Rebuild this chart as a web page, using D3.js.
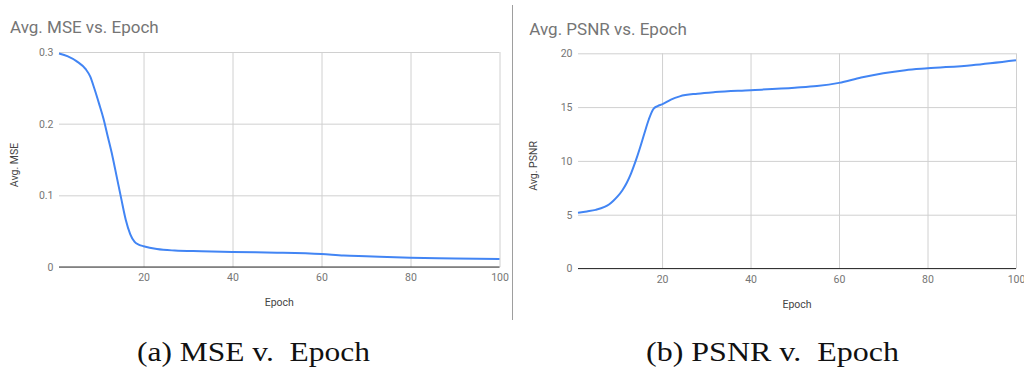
<!DOCTYPE html>
<html>
<head>
<meta charset="utf-8">
<script src="https://cdn.jsdelivr.net/npm/d3@7"></script>
<style>
  html, body { margin: 0; padding: 0; background: #fff; }
  svg { display: block; }
</style>
</head>
<body>
<div id="chart"></div>
<script>
(function () {
  'use strict';

  // ── Data ──────────────────────────────────────────────────────
  const EPOCH_TICKS = [20, 40, 60, 80, 100];
  const MSE_TICKS   = [0, 0.1, 0.2, 0.3];
  const PSNR_TICKS  = [0, 5, 10, 15, 20];

  const MSE_EPOCHS = [1, 3, 5, 7, 8, 9, 10, 11, 12, 13, 14, 15, 16, 17, 18, 19, 20, 23, 27, 33, 40, 50, 60, 65, 70, 80, 90, 100];
  const MSE_VALUES = [0.298, 0.294, 0.287, 0.276, 0.266, 0.248, 0.228, 0.207, 0.181, 0.155, 0.125, 0.095, 0.066, 0.046, 0.035, 0.031, 0.029, 0.025, 0.023, 0.022, 0.021, 0.020, 0.018, 0.016, 0.015, 0.013, 0.012, 0.011];

  const PSNR_EPOCHS = [1, 3, 5, 7, 8, 9, 10, 11, 12, 13, 14, 15, 16, 17, 18, 19, 20, 22, 24, 28, 32, 40, 50, 55, 60, 65, 70, 75, 80, 90, 100];
  const PSNR_VALUES = [5.17, 5.3, 5.45, 5.72, 5.95, 6.3, 6.72, 7.25, 7.95, 8.85, 9.95, 11.2, 12.55, 13.85, 14.8, 15.1, 15.25, 15.7, 16.0, 16.25, 16.4, 16.57, 16.8, 16.95, 17.25, 17.75, 18.15, 18.43, 18.6, 18.9, 19.36];

  // ── Style ─────────────────────────────────────────────────────
  const W = 1024, H = 368;
  const SANS  = 'Roboto, Arial, sans-serif';
  const SERIF = '"Liberation Serif", "Times New Roman", serif';
  const BLUE  = '#4285f4';

  const svg = d3.select('#chart').append('svg')
    .attr('width', W).attr('height', H);

  // divider between the two sub-figures
  svg.append('line')
    .attr('x1', 512.5).attr('x2', 512.5).attr('y1', 5).attr('y2', 320)
    .attr('stroke', '#9e9e9e').attr('stroke-width', 1);

  function panel(cfg) {
    const x = d3.scaleLinear().domain([1, 100]).range([cfg.left, cfg.right]);
    const y = d3.scaleLinear().domain(cfg.yDomain).range([cfg.bottom, cfg.top]);
    const g = svg.append('g');

    // title
    g.append('text')
      .attr('x', cfg.titleX).attr('y', cfg.titleY)
      .attr('fill', '#757575').attr('font-family', SANS).attr('font-size', '17px')
      .text(cfg.title);

    // horizontal grid + y tick labels
    const ya = g.append('g')
      .attr('transform', `translate(${cfg.left},0)`)
      .call(d3.axisLeft(y).tickValues(cfg.yTicks)
        .tickSize(-(cfg.right - cfg.left)).tickPadding(5.5)
        .tickFormat(d => String(d)));
    ya.select('.domain').remove();
    ya.selectAll('.tick line').attr('stroke', '#d0d0d0');
    ya.selectAll('.tick text')
      .attr('fill', '#757575').attr('font-family', SANS).attr('font-size', '10.5px');

    // vertical grid + x tick labels
    const xa = g.append('g')
      .attr('transform', `translate(0,${cfg.bottom})`)
      .call(d3.axisBottom(x).tickValues(EPOCH_TICKS)
        .tickSize(-(cfg.bottom - cfg.top)));
    xa.select('.domain').remove();
    xa.selectAll('.tick line').attr('stroke', '#d0d0d0');
    xa.selectAll('.tick text')
      .attr('y', 14).attr('dy', null)
      .attr('fill', '#757575').attr('font-family', SANS).attr('font-size', '10.5px');

    // baseline at zero
    g.append('line')
      .attr('x1', cfg.left).attr('x2', cfg.right)
      .attr('y1', y(0)).attr('y2', y(0))
      .attr('stroke', '#333').attr('stroke-width', 1);

    // axis titles
    g.append('text')
      .attr('x', (cfg.left + cfg.right) / 2).attr('y', cfg.bottom + 39)
      .attr('text-anchor', 'middle')
      .attr('fill', '#444').attr('font-family', SANS).attr('font-size', '10.5px')
      .text('Epoch');
    g.append('text')
      .attr('transform', `translate(${cfg.left - 41.5},${cfg.yLabelY}) rotate(-90)`)
      .attr('text-anchor', 'middle')
      .attr('fill', '#444').attr('font-family', SANS).attr('font-size', '10.5px')
      .text(cfg.yLabel);

    // series
    const pts = cfg.epochs.map((e, i) => [e, cfg.values[i]]);
    g.append('path')
      .datum(pts)
      .attr('fill', 'none').attr('stroke', BLUE).attr('stroke-width', 2)
      .attr('stroke-linejoin', 'round')
      .attr('d', d3.line().x(d => x(d[0])).y(d => y(d[1])).curve(d3.curveMonotoneX));

    // caption
    g.append('text')
      .attr('x', cfg.capX).attr('y', 361)
      .attr('fill', '#111').attr('font-family', SERIF).attr('font-size', '27px')
      .attr('textLength', cfg.capW).attr('lengthAdjust', 'spacingAndGlyphs')
      .style('white-space', 'pre')
      .text(cfg.caption);
  }

  panel({
    left: 59, right: 499.5, top: 52, bottom: 267, yDomain: [0, 0.3], yTicks: MSE_TICKS,
    title: 'Avg. MSE vs. Epoch', titleX: 10, titleY: 32.7,
    yLabel: 'Avg. MSE', yLabelY: 165,
    epochs: MSE_EPOCHS, values: MSE_VALUES,
    caption: '(a) MSE v.  Epoch', capX: 137, capW: 233
  });

  panel({
    left: 578, right: 1016, top: 53.3, bottom: 268.5, yDomain: [0, 20], yTicks: PSNR_TICKS,
    title: 'Avg. PSNR vs. Epoch', titleX: 529.3, titleY: 35,
    yLabel: 'Avg. PSNR', yLabelY: 166,
    epochs: PSNR_EPOCHS, values: PSNR_VALUES,
    caption: '(b) PSNR v.  Epoch', capX: 646, capW: 253
  });
})();
</script>
</body>
</html>
